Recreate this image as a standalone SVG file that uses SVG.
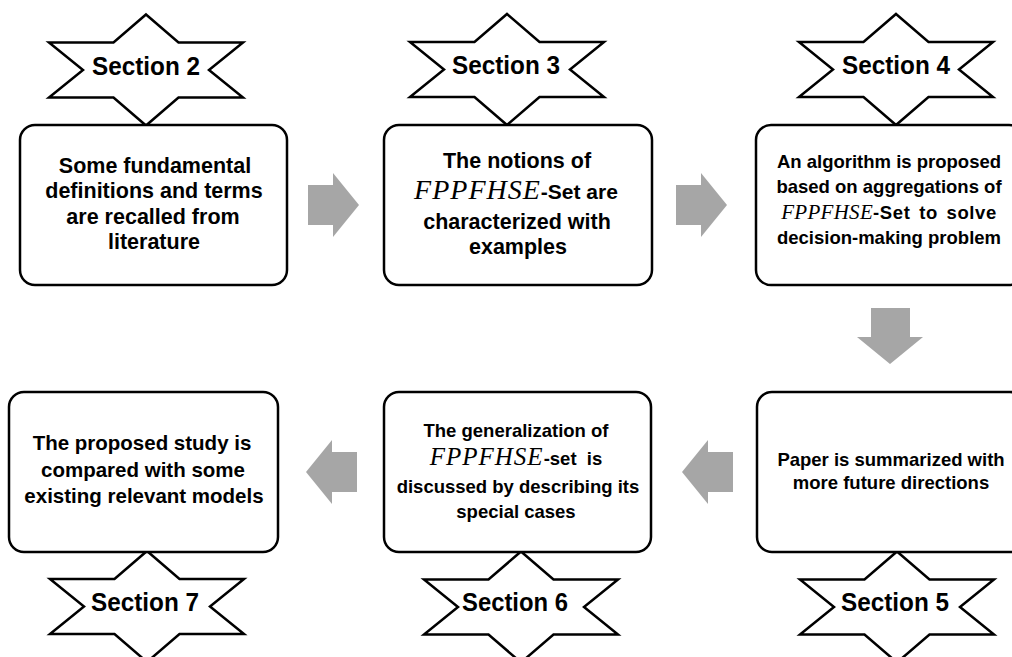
<svg xmlns="http://www.w3.org/2000/svg" xmlns:xlink="http://www.w3.org/1999/xlink" width="1012" height="657" viewBox="0 0 1012 657">
<style>
.box{fill:#fff;stroke:#000;stroke-width:2.5}
.star{fill:#fff;stroke:#000;stroke-width:2.5;stroke-linejoin:miter}
.arr{fill:#a6a6a6;stroke:none}
.t{font-family:"Liberation Sans",Arial,sans-serif;font-weight:bold;fill:#000;text-anchor:middle}
.sec{font-size:25px}
.sc{font-family:"Liberation Serif","Times New Roman",serif;font-style:italic;font-weight:normal}
</style>
<defs>
<path id="star" d="M0,-55.5 L32.5,-27.5 L97,-27.5 L63,0 L97,27.5 L32.5,27.5 L0,55.5 L-32.5,27.5 L-97,27.5 L-63,0 L-97,-27.5 L-32.5,-27.5 Z"/>
<path id="rarrow" d="M0,-20 L25,-20 L25,-32 L51,0 L25,32 L25,20 L0,20 Z"/>
</defs>
<rect width="1012" height="657" fill="#fff"/>

<g id="connectors">
<use xlink:href="#rarrow" class="arr" transform="translate(308,205)"/>
<use xlink:href="#rarrow" class="arr" transform="translate(676,205)"/>
<path class="arr" d="M871,308 L910,308 L910,337 L923,337 L890,364 L857,337 L871,337 Z"/>
<use xlink:href="#rarrow" class="arr" transform="translate(733,472) scale(-1,1)"/>
<use xlink:href="#rarrow" class="arr" transform="translate(357,472) scale(-1,1)"/>
</g>

<g id="section2">
<use xlink:href="#star" class="star" transform="translate(146,70)"/>
<text class="t sec" x="146" y="75" textLength="108" lengthAdjust="spacingAndGlyphs">Section 2</text>
</g>
<g id="section3">
<use xlink:href="#star" class="star" transform="translate(507,69.5)"/>
<text class="t sec" x="506" y="74" textLength="108" lengthAdjust="spacingAndGlyphs">Section 3</text>
</g>
<g id="section4">
<use xlink:href="#star" class="star" transform="translate(896,69.5)"/>
<text class="t sec" x="896" y="74" textLength="108" lengthAdjust="spacingAndGlyphs">Section 4</text>
</g>
<g id="section7">
<use xlink:href="#star" class="star" transform="translate(147,606.5)"/>
<text class="t sec" x="145" y="611" textLength="108" lengthAdjust="spacingAndGlyphs">Section 7</text>
</g>
<g id="section6">
<use xlink:href="#star" class="star" transform="translate(521,607)"/>
<text class="t sec" x="515" y="611" textLength="106" lengthAdjust="spacingAndGlyphs">Section 6</text>
</g>
<g id="section5">
<use xlink:href="#star" class="star" transform="translate(897,607)"/>
<text class="t sec" x="895" y="611" textLength="108" lengthAdjust="spacingAndGlyphs">Section 5</text>
</g>

<g id="box1">
<rect class="box" x="20" y="125" width="267" height="160" rx="15"/>
<text class="t" font-size="21.5" x="155" y="173">Some fundamental</text>
<text class="t" font-size="21.5" x="154" y="198">definitions and terms</text>
<text class="t" font-size="21.5" x="153" y="224">are recalled from</text>
<text class="t" font-size="21.5" x="154" y="249">literature</text>
</g>

<g id="box2">
<rect class="box" x="384" y="125" width="268" height="160" rx="15"/>
<text class="t" font-size="21.5" x="517" y="168">The notions of</text>
<text class="t" font-size="21" x="516" y="199"><tspan class="sc" font-size="28" letter-spacing="1">FPPFHSE</tspan>-Set are</text>
<text class="t" font-size="21.5" x="517" y="229">characterized with</text>
<text class="t" font-size="21.5" x="518" y="254">examples</text>
</g>

<g id="box3">
<rect class="box" x="756" y="125" width="268" height="160" rx="15"/>
<text class="t" font-size="18.5" x="889" y="168">An algorithm is proposed</text>
<text class="t" font-size="18.5" x="889" y="193">based on aggregations of</text>
<text class="t" font-size="18.5" x="889" y="219"><tspan class="sc" font-size="21" letter-spacing="0.3">FPPFHSE</tspan><tspan letter-spacing="0.6" word-spacing="3">-Set to solve</tspan></text>
<text class="t" font-size="18.5" x="889" y="244">decision-making problem</text>
</g>

<g id="box5">
<rect class="box" x="757" y="392" width="268" height="160" rx="15"/>
<text class="t" font-size="18.5" x="891" y="466">Paper is summarized with</text>
<text class="t" font-size="18.5" x="891" y="489">more future directions</text>
</g>

<g id="box6">
<rect class="box" x="384" y="392" width="267" height="160" rx="15"/>
<text class="t" font-size="18.5" x="516" y="437">The generalization of</text>
<text class="t" font-size="18.5" x="516" y="465" style="white-space:pre"><tspan class="sc" font-size="25" letter-spacing="1">FPPFHSE</tspan>-set  is</text>
<text class="t" font-size="18.5" x="518" y="493">discussed by describing its</text>
<text class="t" font-size="18.5" x="516" y="518">special cases</text>
</g>

<g id="box7">
<rect class="box" x="9" y="392" width="269" height="160" rx="15"/>
<text class="t" font-size="20.5" x="142" y="450">The proposed study is</text>
<text class="t" font-size="20.5" x="143" y="477">compared with some</text>
<text class="t" font-size="20.5" x="144" y="503">existing relevant models</text>
</g>
</svg>
